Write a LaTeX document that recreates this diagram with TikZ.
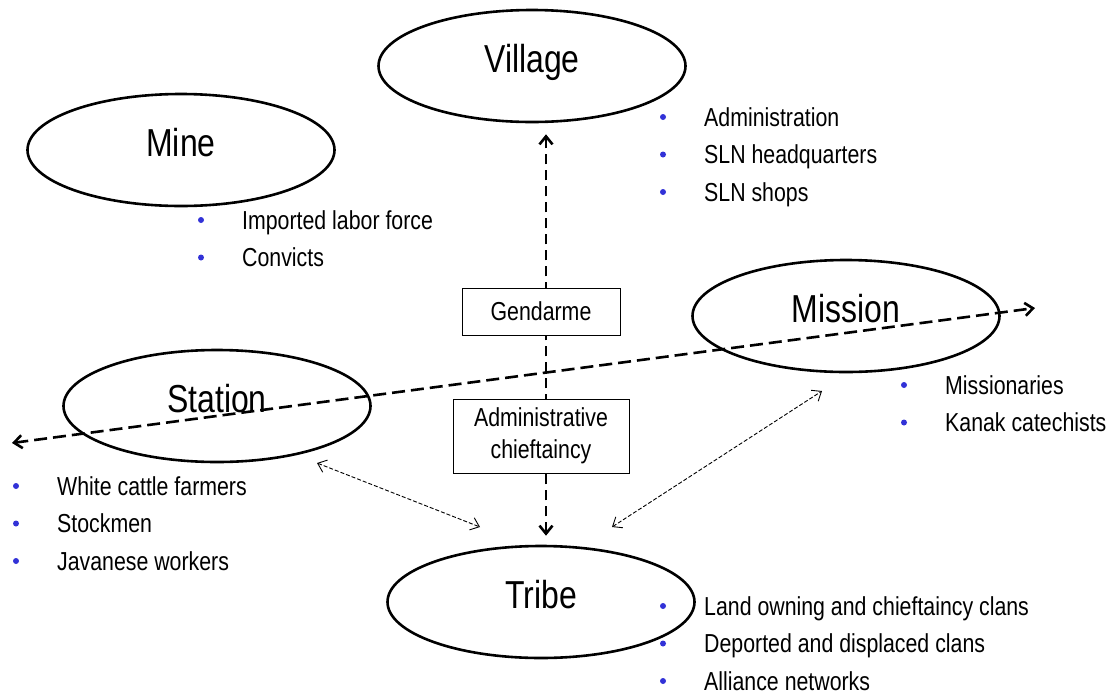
\documentclass[tikz,border=0pt]{standalone}
\usepackage{fontspec}
\setmainfont{Liberation Sans}[FakeStretch=0.82]
\usetikzlibrary{arrows.meta,positioning,shapes.geometric}
\definecolor{dotblue}{RGB}{50,50,215}
\tikzset{
  place/.style={ellipse, draw, line width=2.6pt, minimum width=307pt, minimum height=112pt,
    font=\fontsize{39}{44}\selectfont, text depth=15pt, inner sep=0pt},
  role/.style={draw, fill=white, line width=0.9pt, align=center, font=\fontsize{26}{32}\selectfont, inner sep=4pt},
  item/.style={anchor=base west, font=\fontsize{26}{30}\selectfont, inner sep=0pt},
  bul/.style={circle, fill=dotblue, inner sep=0pt, minimum size=6pt},
  link/.style={{Straight Barb[length=8pt,width=13pt]}-{Straight Barb[length=8pt,width=13pt]}, line width=2.6pt, dash pattern=on #1 off 6pt},
  link/.default=13pt,
  tie/.style={{Straight Barb[length=8pt,width=13pt]}-{Straight Barb[length=8pt,width=13pt]}, line width=0.9pt, dash pattern=on 4pt off 2pt},
}
\newcommand{\bullets}[4]{% name, x, y, list
  \foreach \t [count=\i] in {#4} {
    \node[bul] (#1b\i) at (#2,{#3+37.5*(\i-1)}) {};
    \node[item] (#1\i) at ({#2+41},{#3+37.5*(\i-1)+9}) {\t};
  }}
\begin{document}
\begin{tikzpicture}[x=1pt,y=-1pt]
  \useasboundingbox (0,0) rectangle (1112,697);
  % places
  \node[place] (village) at (532,66) {Village};
  \node[place] (mine) at (181,150) {Mine};
  \node[place] (mission) at (846,316) {Mission};
  \node[place] (station) at (217,406) {Station};
  \node[place] (tribe) at (541,602) {Tribe};
  % links
  \draw[link=10pt] ([xshift=5pt,yshift=9pt]tribe.north) -- ([xshift=14pt,yshift=-11pt]village.south);
  \coordinate (west) at (12,443);
  \coordinate (east) at (1035,308);
  \draw[link] (west) -- (east);
  \coordinate (st1) at (317,463); \coordinate (tr1) at (480,527);
  \coordinate (mi1) at (822,391); \coordinate (tr2) at (612,527);
  \draw[tie] (st1) -- (tr1);
  \draw[tie] (tr2) -- (mi1);
  % intermediaries
  \node[role, minimum width=158pt, minimum height=47pt] (gend) at (541,311.5) {Gendarme};
  \node[role, minimum width=176pt, minimum height=74pt] (chief) at (541,436) {Administrative\\chieftaincy};
  % lists
  \bullets{vil}{663}{117}{Administration,SLN headquarters,SLN shops}
  \bullets{min}{201}{220}{Imported labor force,Convicts}
  \bullets{mis}{904}{385}{Missionaries,Kanak catechists}
  \bullets{sta}{16}{486}{White cattle farmers,Stockmen,Javanese workers}
  \bullets{tri}{663}{606}{Land owning and chieftaincy clans,Deported and displaced clans,Alliance networks}
\end{tikzpicture}
\end{document}
